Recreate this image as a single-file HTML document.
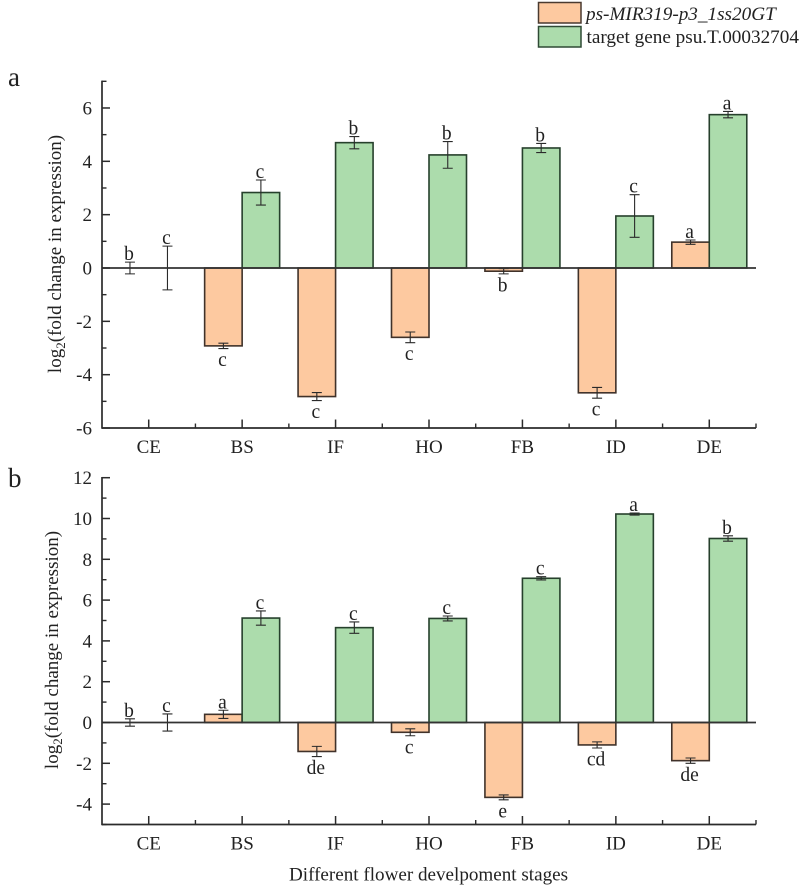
<!DOCTYPE html>
<html>
<head>
<meta charset="utf-8">
<style>
html,body{margin:0;padding:0;background:#fff;width:800px;height:887px;overflow:hidden}
svg{display:block;filter:blur(0.35px)}
text{font-family:"Liberation Serif",serif;fill:#222}
</style>
</head>
<body>
<svg id="chart" width="800" height="887" viewBox="0 0 800 887" xmlns="http://www.w3.org/2000/svg">
  <g>
    <rect x="538.5" y="2.5" width="42.5" height="20.5" fill="#fdc9a0" stroke="#4a3a30" stroke-width="1.5"/>
    <text x="586" y="20" font-size="19.2" font-style="italic">ps-MIR319-p3_1ss20GT</text>
    <rect x="538.5" y="26.5" width="42.5" height="20.5" fill="#acdcac" stroke="#2f4a35" stroke-width="1.5"/>
    <text x="586.5" y="43" font-size="19.2">target gene psu.T.00032704</text>
  </g>
  <text x="8" y="86" font-size="27">a</text>
  <text x="8" y="487" font-size="27">b</text>
  <text x="428.5" y="880.5" font-size="19.1" text-anchor="middle">Different flower develpoment stages</text>
</svg>
<script>
const categories = ["CE", "BS", "IF", "HO", "FB", "ID", "DE"];

const panelAMirna = [0, -2.92, -4.82, -2.6, -0.12, -4.68, 0.97];
const panelAMirnaErr = [0.22, 0.1, 0.15, 0.2, 0.1, 0.2, 0.08];
const panelAMirnaLetters = ["b", "c", "c", "c", "b", "c", "a"];
const panelATarget = [0, 2.83, 4.7, 4.24, 4.5, 1.95, 5.75];
const panelATargetErr = [0.82, 0.47, 0.23, 0.5, 0.17, 0.8, 0.12];
const panelATargetLetters = ["c", "c", "b", "b", "b", "c", "a"];
const panelATicks = [-6, -4, -2, 0, 2, 4, 6];
const panelAMinorTicks = [-5, -3, -1, 1, 3, 5, 7];

const panelBMirna = [0, 0.4, -1.42, -0.48, -3.67, -1.1, -1.87];
const panelBMirnaErr = [0.18, 0.2, 0.25, 0.17, 0.12, 0.15, 0.13];
const panelBMirnaLetters = ["b", "a", "de", "c", "e", "cd", "de"];
const panelBTarget = [0, 5.12, 4.65, 5.1, 7.07, 10.22, 9.02];
const panelBTargetErr = [0.42, 0.35, 0.28, 0.12, 0.08, 0.05, 0.13];
const panelBTargetLetters = ["c", "c", "c", "c", "c", "a", "b"];
const panelBTicks = [-4, -2, 0, 2, 4, 6, 8, 10, 12];
const panelBMinorTicks = [-5, -3, -1, 1, 3, 5, 7, 9, 11];

const NS = "http://www.w3.org/2000/svg";
const svg = document.getElementById("chart");
const AXIS_COLOR = "#2b2b2b";
const LEFT = 102;
const RIGHT = 756;
const STEP = (RIGHT - LEFT) / categories.length;
const BAR_W = 37.5;

function make(parent, tag, attrs) {
  const el = document.createElementNS(NS, tag);
  for (const k in attrs) el.setAttribute(k, attrs[k]);
  parent.appendChild(el);
  return el;
}

function catX(i) {
  return LEFT + STEP * (i + 0.5);
}

function drawPanel(id, y, yTop, yBottom, ticks, minor, titleX, titleY, mirna, mirnaErr, mirnaLetters, target, targetErr, targetLetters) {
  const g = make(svg, "g", {});
  
  

  function drawSeries(values, errs, letters, side, fill, stroke, label) {
    values.forEach(function (v, i) {
      const x0 = side < 0 ? catX(i) - BAR_W : catX(i);
      const cx = x0 + BAR_W / 2;
      if (v !== 0) {
        const bar = make(g, "rect", {
          x: x0, y: Math.min(y(v), y(0)), width: BAR_W,
          height: Math.abs(y(v) - y(0)), fill: fill, stroke: stroke, "stroke-width": 1.6
        });
        
        
      }
      const up = y(v + errs[i]);
      const down = y(v - errs[i]);
      const err = make(g, "path", {
        d: "M" + cx + " " + up + "V" + down + "M" + (cx - 5) + " " + up + "H" + (cx + 5) + "M" + (cx - 5) + " " + down + "H" + (cx + 5),
        stroke: "#2a2a2a", "stroke-width": 1.1, fill: "none"
      });
      
      
      const text = make(g, "text", {
        x: cx - 1, y: v < 0 ? down + 17.5 : up - 2,
        "font-size": 19.5, "text-anchor": "middle"
      });
      text.textContent = letters[i];
      
      
    });
  }

  drawSeries(mirna, mirnaErr, mirnaLetters, -1, "#fdc9a0", "#40322a", "mirna");
  drawSeries(target, targetErr, targetLetters, 1, "#acdcac", "#26402c", "target");

  const zero = make(g, "line", { x1: LEFT, x2: RIGHT, y1: y(0), y2: y(0), stroke: "#333", "stroke-width": 1.7 });
  
  

  const yAxis = make(g, "line", { x1: LEFT, x2: LEFT, y1: y(yTop) - 0.7, y2: y(yBottom) + 0.7, stroke: AXIS_COLOR, "stroke-width": 1.7 });
  
  

  const xAxis = make(g, "line", { x1: LEFT, x2: RIGHT, y1: y(yBottom), y2: y(yBottom), stroke: AXIS_COLOR, "stroke-width": 1.7 });
  
  

  ticks.forEach(function (t) {
    const tick = make(g, "line", { x1: LEFT, x2: LEFT + 8, y1: y(t), y2: y(t), stroke: AXIS_COLOR, "stroke-width": 1.5 });
    
    
    const label = make(g, "text", { x: 92, y: y(t) + 6.5, "font-size": 19, "text-anchor": "end" });
    label.textContent = t;
    
    
  });

  minor.forEach(function (t) {
    const tick = make(g, "line", { x1: LEFT, x2: LEFT + 4.5, y1: y(t), y2: y(t), stroke: AXIS_COLOR, "stroke-width": 1.4 });
    
    
  });

  categories.forEach(function (c, i) {
    const base = y(yBottom);
    const tick = make(g, "line", { x1: catX(i), x2: catX(i), y1: base, y2: base - 8.5, stroke: AXIS_COLOR, "stroke-width": 1.5 });
    
    
    const minorTick = make(g, "line", { x1: catX(i) + STEP / 2, x2: catX(i) + STEP / 2, y1: base, y2: base - 4.5, stroke: AXIS_COLOR, "stroke-width": 1.4 });
    
    
    const label = make(g, "text", { x: catX(i), y: base + 25, "font-size": 19, "text-anchor": "middle" });
    label.textContent = c;
    
    
  });

  const title = make(g, "text", {
    transform: "translate(" + titleX + "," + titleY + ") rotate(-90)",
    "font-size": 19, "text-anchor": "middle"
  });
  
  
  const t1 = make(title, "tspan", {});
  t1.textContent = "log";
  const t2 = make(title, "tspan", { dy: 4, "font-size": 13 });
  t2.textContent = "2";
  const t3 = make(title, "tspan", { dy: -4 });
  t3.textContent = "(fold change in expression)";
}

function scale(zeroPx, pxPerUnit) {
  return function (v) { return zeroPx - v * pxPerUnit; };
}

drawPanel("a", scale(268, 26.67), 7, -6, panelATicks, panelAMinorTicks, 61, 254,
  panelAMirna, panelAMirnaErr, panelAMirnaLetters, panelATarget, panelATargetErr, panelATargetLetters);
drawPanel("b", scale(722.5, 20.4), 12, -5, panelBTicks, panelBMinorTicks, 58, 650,
  panelBMirna, panelBMirnaErr, panelBMirnaLetters, panelBTarget, panelBTargetErr, panelBTargetLetters);
</script>
</body>
</html>
